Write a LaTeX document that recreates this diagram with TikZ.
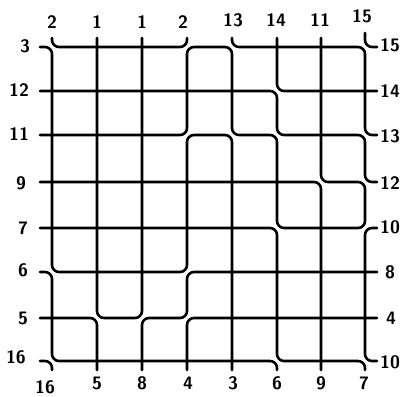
\documentclass[tikz,border=0pt]{standalone}
\begin{document}
\begin{tikzpicture}[x=1pt,y=-1pt,
  wire/.style={line width=2.6pt,rounded corners=7pt,line cap=round,line join=round},
  lab/.style={font=\fontsize{18}{18}\selectfont\sffamily\bfseries,inner sep=0pt}]
\useasboundingbox (0,0) rectangle (403,396);
% grid points and pins
\foreach \n/\x in {1/52,2/97,3/142,4/187,5/232,6/277,7/321,8/365}{
  \foreach \m/\y in {1/47,2/91,3/135,4/182,5/228,6/272,7/318,8/361}{
    \coordinate (g\n\m) at (\x,\y);
  }
  \coordinate (t\n) at (\x,38);
  \coordinate (b\n) at (\x,370);
}
\foreach \m/\y in {1/47,2/91,3/135,4/182,5/228,6/272,7/318,8/361}{
  \coordinate (l\m) at (40,\y);
  \coordinate (r\m) at (377,\y);
}
\coordinate (t8h) at (365,33);
% nets
\draw[wire] (t1) -- (g11) -- (g41) -- (t4);                       % 2
\draw[wire] (t2) -- (g27) -- (g37) -- (t3);                       % 1
\draw[wire] (l1) -- (g11) -- (g16) -- (g46) -- (g43) -- (g53) -- (b5); % 3
\draw[wire] (l3) -- (g43) -- (g41) -- (g51) -- (g53) -- (g63) -- (g65) -- (g85) -- (g84) -- (g74) -- (t7); % 11
\draw[wire] (l2) -- (g62) -- (g63) -- (g83) -- (g84) -- (r4);     % 12
\draw[wire] (t5) -- (g51) -- (g81) -- (g83) -- (r3);              % 13
\draw[wire] (t6) -- (g62) -- (r2);                                % 14
\draw[wire] (t8h) -- (g81) -- (r1);                               % 15
\draw[wire] (l4) -- (g74) -- (b7);                                % 9
\draw[wire] (l5) -- (g65) -- (g68) -- (g88) -- (b8);              % 7
\draw[wire] (r5) -- (g85) -- (g88) -- (r8);                       % 10
\draw[wire] (l6) -- (g16) -- (g18) -- (g68) -- (b6);              % 6
\draw[wire] (l8) -- (g18) -- (b1);                                % 16
\draw[wire] (b3) -- (g37) -- (g47) -- (g46) -- (r6);              % 8
\draw[wire] (b4) -- (g47) -- (r7);                                % 4
\draw[wire] (l7) -- (g27) -- (b2);                                % 5
% labels top
\node[lab] (T1) at (52,22) {2};
\node[lab] (T2) at (97,22) {1};
\node[lab] (T3) at (142,22) {1};
\node[lab] (T4) at (183,22) {2};
\node[lab] (T5) at (233,20) {13};
\node[lab] (T6) at (276,20) {14};
\node[lab] (T7) at (320,20) {11};
\node[lab] (T8) at (362,16) {15};
% labels bottom
\node[lab] (B1) at (45,387) {16};
\node[lab] (B2) at (97,383) {5};
\node[lab] (B3) at (142,383) {8};
\node[lab] (B4) at (188,383) {4};
\node[lab] (B5) at (233,383) {3};
\node[lab] (B6) at (277,383) {6};
\node[lab] (B7) at (321,383) {9};
\node[lab] (B8) at (364,383) {7};
% labels left
\node[lab] (L1) at (25,46) {3};
\node[lab] (L2) at (19,90) {12};
\node[lab] (L3) at (19,134) {11};
\node[lab] (L4) at (21,183) {9};
\node[lab] (L5) at (23,228) {7};
\node[lab] (L6) at (23,270) {6};
\node[lab] (L7) at (23,318) {5};
\node[lab] (L8) at (16,357) {16};
% labels right
\node[lab] (R1) at (390,45) {15};
\node[lab] (R2) at (390,91) {14};
\node[lab] (R3) at (390,136) {13};
\node[lab] (R4) at (390,183) {12};
\node[lab] (R5) at (390,227) {10};
\node[lab] (R6) at (390,272) {8};
\node[lab] (R7) at (391,318) {4};
\node[lab] (R8) at (390,362) {10};
\end{tikzpicture}
\end{document}
